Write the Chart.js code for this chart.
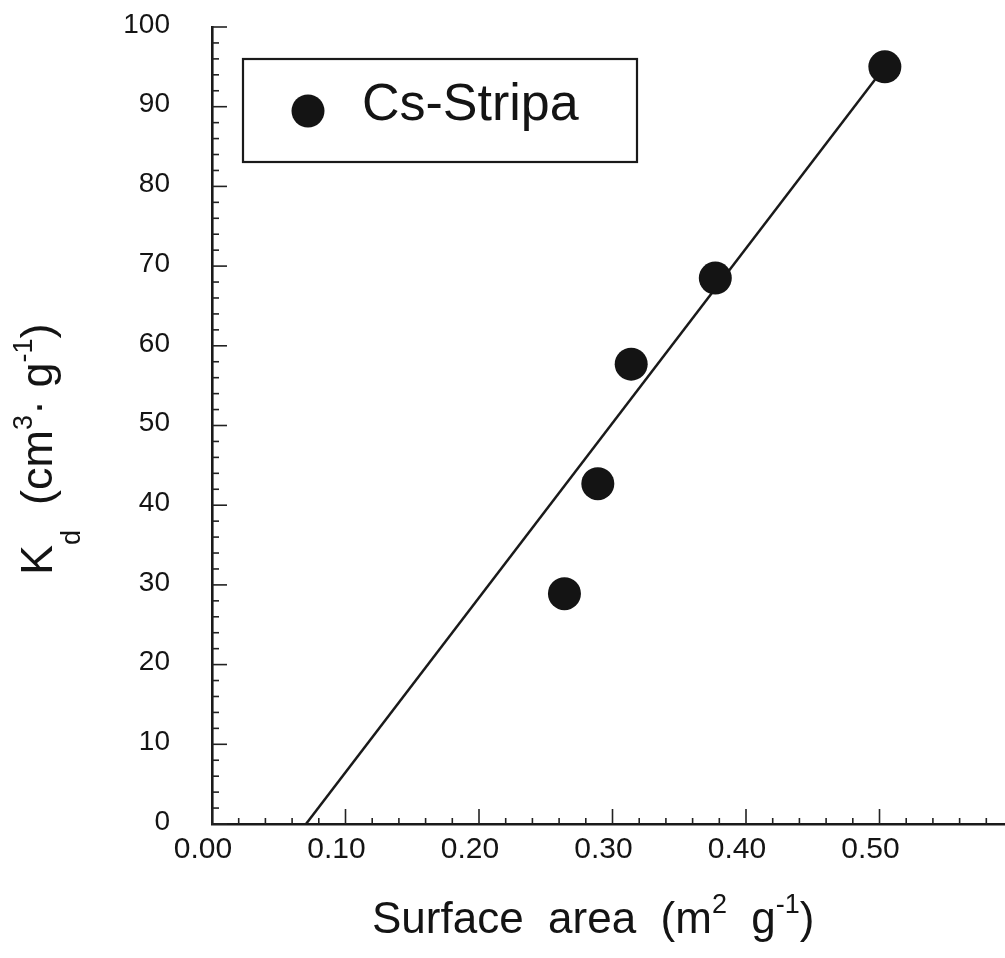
<!DOCTYPE html>
<html><head><meta charset="utf-8">
<script src="https://cdn.jsdelivr.net/npm/chart.js@4/dist/chart.umd.min.js"></script>
<style>html,body{margin:0;padding:0;background:#fff;overflow:hidden}canvas{display:block}</style>
</head><body>
<canvas id="c" width="1005" height="958"></canvas>
<script>
// ---- data ----
const surfaceArea = [0.264, 0.289, 0.314, 0.377, 0.504];
const kdValues = [28.9, 42.7, 57.7, 68.5, 95.0];
const fitX = [0.0704, 0.504];
const fitY = [0, 95.0];
const xTickValues = [0, 0.1, 0.2, 0.3, 0.4, 0.5];
const xTickLabels = ['0.00', '0.10', '0.20', '0.30', '0.40', '0.50'];
const yTickValues = [0, 10, 20, 30, 40, 50, 60, 70, 80, 90, 100];
const yTickLabels = ['0', '10', '20', '30', '40', '50', '60', '70', '80', '90', '100'];
const seriesLabel = 'Cs-Stripa';
const xTitleParts = [['Surface  area  (m', 'n'], ['2', 'sup'], ['  g', 'n'], ['-1', 'sup'], [')', 'n']];
const yTitleParts = [['K', 'n'], ['d', 'sub'], ['  (cm', 'n'], ['3', 'sup'], ['\u00b7 g', 'n'], ['-1', 'sup'], [')', 'n']];

const FONT = '"Liberation Sans", Arial, Helvetica, sans-serif';
const INK = '#141414';

function drawParts(ctx, parts, size, supSize, supRise, subRise) {
  let x = 0;
  parts.forEach(([t, k]) => {
    if (k === 'n') { ctx.font = size + 'px ' + FONT; ctx.fillText(t, x, 0); }
    else if (k === 'sup') { ctx.font = supSize + 'px ' + FONT; ctx.fillText(t, x, -supRise); }
    else { ctx.font = supSize + 'px ' + FONT; ctx.fillText(t, x, subRise); }
    x += ctx.measureText(t).width;
  });
}

function noPad(s) { s.paddingTop = 0; s.paddingBottom = 0; s.paddingLeft = 0; s.paddingRight = 0; }

const decor = {
  id: 'decor',
  afterDraw(chart) {
    const ctx = chart.ctx, xs = chart.scales.x, ys = chart.scales.y, a = chart.chartArea;
    ctx.save();
    ctx.strokeStyle = '#222'; ctx.lineWidth = 1.6;
    // x ticks (inward)
    for (let i = 0; i * 0.02 <= xs.max + 1e-9; i++) {
      const px = xs.getPixelForValue(i * 0.02);
      const len = (i % 5 === 0) ? 15 : 6;
      ctx.beginPath(); ctx.moveTo(px, a.bottom); ctx.lineTo(px, a.bottom - len); ctx.stroke();
    }
    // y ticks (inward)
    for (let i = 0; i * 2 <= ys.max + 1e-9; i++) {
      const py = ys.getPixelForValue(i * 2);
      const len = (i % 5 === 0) ? 15 : 7;
      ctx.beginPath(); ctx.moveTo(a.left, py); ctx.lineTo(a.left + len, py); ctx.stroke();
    }
    // legend box
    const bx = a.left + 31, by = a.top + 32, bw = 394, bh = 103;
    ctx.lineWidth = 2.2; ctx.strokeStyle = '#1a1a1a';
    ctx.strokeRect(bx, by, bw, bh);
    ctx.fillStyle = INK;
    ctx.beginPath(); ctx.arc(bx + 65, by + 52, 16.5, 0, Math.PI * 2); ctx.fill();
    ctx.font = '52px ' + FONT; ctx.textBaseline = 'alphabetic'; ctx.textAlign = 'left';
    ctx.fillText(chart.data.datasets[0].label, bx + 119, by + 61);
    // x title
    ctx.save();
    ctx.translate(372, 933);
    drawParts(ctx, xTitleParts, 44, 27, 20, 14);
    ctx.restore();
    // y title
    ctx.save();
    ctx.translate(52, 575);
    ctx.rotate(-Math.PI / 2);
    drawParts(ctx, yTitleParts, 45, 27, 20, 28);
    ctx.restore();
    ctx.restore();
  }
};

new Chart(document.getElementById('c'), {
  type: 'scatter',
  data: {
    datasets: [
      {
        type: 'scatter', label: seriesLabel,
        data: surfaceArea.map((x, i) => ({ x: x, y: kdValues[i] })),
        pointRadius: 16.5, pointHoverRadius: 16.5,
        backgroundColor: INK, borderColor: INK, borderWidth: 0, order: 0
      },
      {
        type: 'line', label: 'fit',
        data: fitX.map((x, i) => ({ x: x, y: fitY[i] })),
        borderColor: '#1a1a1a', borderWidth: 2.5, pointRadius: 0, fill: false, order: 1
      }
    ]
  },
  options: {
    responsive: false, animation: false, devicePixelRatio: 1,
    layout: { autoPadding: false, padding: { top: 27, right: 0, left: 0, bottom: 0 } },
    plugins: { legend: { display: false }, tooltip: { enabled: false } },
    scales: {
      x: {
        type: 'linear', min: 0, max: 0.594,
        afterBuildTicks: (s) => { s.ticks = xTickValues.map(v => ({ value: v })); },
        afterFit: (s) => { s.height = 134; noPad(s); },
        ticks: {
          callback: (v, i) => xTickLabels[i], includeBounds: false,
          font: { size: 30, family: FONT }, color: INK, padding: 8, labelOffset: -9, maxRotation: 0, autoSkip: false
        },
        grid: { display: true, drawOnChartArea: false, drawTicks: false },
        border: { display: true, color: '#1a1a1a', width: 2.6 }
      },
      y: {
        type: 'linear', min: 0, max: 100,
        afterBuildTicks: (s) => { s.ticks = yTickValues.map(v => ({ value: v })); },
        afterFit: (s) => { s.width = 212; noPad(s); },
        ticks: {
          callback: (v, i) => yTickLabels[i],
          font: { size: 28, family: FONT }, color: INK, padding: 42, labelOffset: -2, autoSkip: false
        },
        grid: { display: true, drawOnChartArea: false, drawTicks: false },
        border: { display: true, color: '#1a1a1a', width: 2.6 }
      }
    }
  },
  plugins: [decor]
});
</script>
</body></html>
